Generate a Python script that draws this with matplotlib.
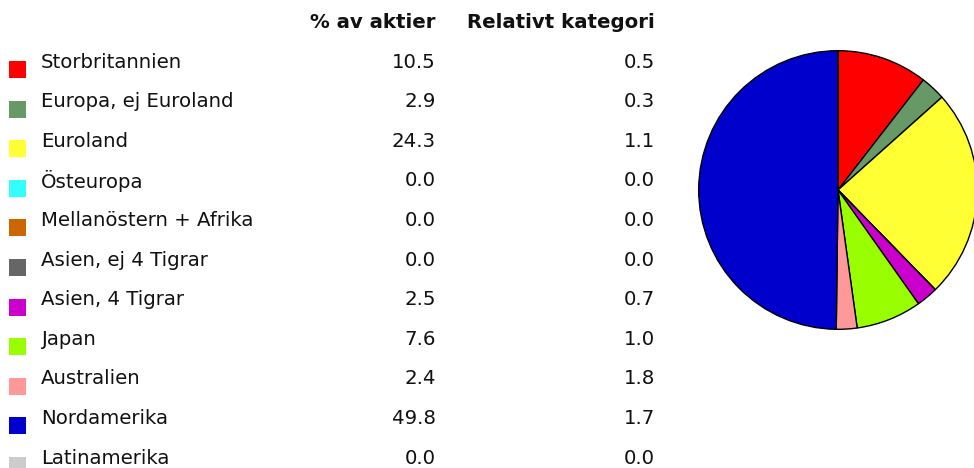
import numpy as np
import matplotlib
matplotlib.use("Agg")
import matplotlib.pyplot as plt

regions = ["Storbritannien", "Europa, ej Euroland", "Euroland", "Östeuropa",
           "Mellanöstern + Afrika", "Asien, ej 4 Tigrar", "Asien, 4 Tigrar",
           "Japan", "Australien", "Nordamerika", "Latinamerika"]
pct_aktier = [10.5, 2.9, 24.3, 0.0, 0.0, 0.0, 2.5, 7.6, 2.4, 49.8, 0.0]
rel_kategori = [0.5, 0.3, 1.1, 0.0, 0.0, 0.0, 0.7, 1.0, 1.8, 1.7, 0.0]
colors = ["#FF0000", "#669966", "#FFFF33", "#33FFFF", "#CC6600", "#666666",
          "#CC00CC", "#99FF00", "#FF9999", "#0000CC", "#CCCCCC"]
headers = ["% av aktier", "Relativt kategori"]

W, H = 974, 468
FS = 14.2
INK = "#111111"
fig = plt.figure(figsize=(W / 100, H / 100), dpi=100)
fig.patch.set_facecolor("white")

# table drawn in pixel coordinates
ax = fig.add_axes([0, 0, 1, 1])
ax.set_xlim(0, W)
ax.set_ylim(H, 0)
ax.axis("off")

ax.text(436, 22, headers[0], ha="right", va="center", fontsize=FS,
        fontweight="bold", color=INK)
ax.text(655, 22, headers[1], ha="right", va="center", fontsize=FS,
        fontweight="bold", color=INK)

row0, step = 62, 39.6
for i, (name, p, r, c) in enumerate(zip(regions, pct_aktier, rel_kategori, colors)):
    y = row0 + step * i
    ax.add_patch(plt.Rectangle((9, y - 1), 17, 17, facecolor=c, edgecolor="none"))
    ax.text(41, y, name, ha="left", va="center", fontsize=FS, color=INK)
    ax.text(436, y, f"{p:.1f}", ha="right", va="center", fontsize=FS, color=INK)
    ax.text(655, y, f"{r:.1f}", ha="right", va="center", fontsize=FS, color=INK)

# pie, starting at 12 o'clock, clockwise
cx, cy, rad = 838, 190, 140
pax = fig.add_axes([(cx - rad) / W, (H - cy - rad) / H, 2 * rad / W, 2 * rad / H])
pax.pie(pct_aktier, colors=colors, startangle=90, counterclock=False,
        wedgeprops=dict(edgecolor="black", linewidth=1.0))
pax.set_xlim(-1.005, 1.005)
pax.set_ylim(-1.005, 1.005)
pax.axis("off")

fig.savefig("out.png", dpi=100)
